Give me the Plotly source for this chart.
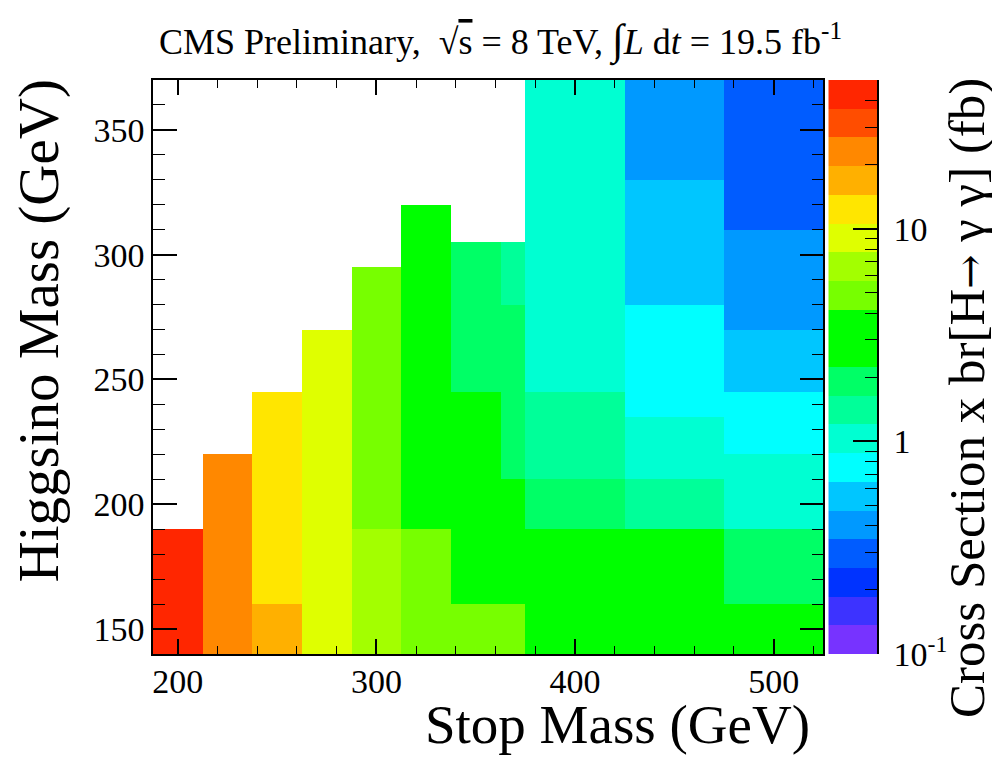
import math
import plotly.graph_objects as go

# ---------------- data ----------------
# stop-mass bin edges (GeV)
stop_edges = [187.5, 212.5, 237.5, 262.5, 287.5, 312.5, 337.5, 362.5, 375.0, 425.0, 475.0, 525.0]

# for every stop-mass bin: higgsino-mass edges (GeV) of its filled segments
higgsino_edges = [
    [140, 190],
    [140, 220],
    [140, 160, 245],
    [140, 270],
    [140, 190, 295],
    [140, 190, 320],
    [140, 160, 245, 305],
    [140, 160, 210, 280, 305],
    [140, 190, 210, 245, 370],
    [140, 190, 210, 235, 280, 330, 370],
    [140, 160, 190, 220, 245, 270, 310, 370],
]

# cross section x BR(H->gg) in fb for each segment above
xsec_fb = [
    [45.0],
    [23.0],
    [17.0, 12.0],
    [9.0],
    [6.5, 4.9],
    [4.8, 3.2],
    [4.6, 2.8, 1.9],
    [4.4, 2.6, 1.9, 1.4],
    [2.7, 1.9, 1.4, 1.0],
    [2.5, 1.4, 1.0, 0.75, 0.55, 0.4],
    [2.3, 1.9, 1.0, 0.75, 0.55, 0.4, 0.3],
]

x_tickvals = [200, 300, 400, 500]
y_tickvals = [150, 200, 250, 300, 350]
x_range = [187.5, 525]
y_range = [140, 370]

z_low, z_high = 0.1, 50.0
n_contours = 20
palette = [  # bottom -> top
    "#7733FF", "#3D33FF", "#0033FF", "#005CFF", "#0099FF",
    "#00C6FF", "#00FFFF", "#00FFD2", "#00FF99", "#00FF66",
    "#00FF00", "#00FF00", "#77FF00", "#A3FF00", "#DFFF00",
    "#FFE600", "#FFB000", "#FF8800", "#FF4D00", "#FF2600",
]
cbar_tickvals = [0.1, 1, 10]
cbar_ticktext = ["10<sup>-1</sup>", "1", "10"]
cbar_minor = [0.2, 0.3, 0.4, 0.5, 0.6, 0.7, 0.8, 0.9,
              2, 3, 4, 5, 6, 7, 8, 9, 20, 30, 40]

title_text = ("CMS Preliminary,  √<span style='text-decoration:overline'>s</span> = 8 TeV, "
              "<span style='font-size:43px'>∫</span><i>L</i> d<i>t</i> = 19.5 fb<sup>-1</sup>")
x_title = "Stop Mass (GeV)"
y_title = "Higgsino Mass (GeV)"
z_title = ("Cross Section x br[H<span style='font-family:DejaVu Serif;font-size:41px'>→</span>"
           " γ γ] (fb)")

# ---------------- build grid ----------------
y_edges = sorted({e for col in higgsino_edges for e in col})
z = []
for j in range(len(y_edges) - 1):
    mid = 0.5 * (y_edges[j] + y_edges[j + 1])
    row = []
    for edges, vals in zip(higgsino_edges, xsec_fb):
        v = None
        for k in range(len(vals)):
            if edges[k] <= mid < edges[k + 1]:
                v = math.log10(vals[k])
        row.append(v)
    z.append(row)

lz0, lz1 = math.log10(z_low), math.log10(z_high)
colorscale = []
for k, c in enumerate(palette):
    colorscale.append([k / n_contours, c])
    colorscale.append([(k + 1) / n_contours, c])

levels = [lz0 + (lz1 - lz0) * k / n_contours for k in range(n_contours + 1)]
bar_z = [[0.5 * (levels[k] + levels[k + 1])] for k in range(n_contours)]

FONT = "Liberation Serif"

fig = go.Figure()
fig.add_trace(go.Heatmap(
    x=stop_edges, y=y_edges, z=z,
    zmin=lz0, zmax=lz1, colorscale=colorscale,
    showscale=False, hoverinfo="skip", xaxis="x", yaxis="y",
))
fig.add_trace(go.Heatmap(
    x=[0, 1], y=levels, z=bar_z,
    zmin=lz0, zmax=lz1, colorscale=colorscale,
    showscale=False, hoverinfo="skip", xaxis="x2", yaxis="y2",
))

# page has an 8 px body margin: work in page pixels and convert
OFF = 8
W, H = 992, 749
L, T = 145, 72
B = H - (654 - OFF)
R = W - (877 - OFF)
pw, ph = W - L - R, H - T - B


def px(x_page):
    return (x_page - OFF - L) / pw


def py(y_page):
    return (H - B - (y_page - OFF)) / ph


tickfont = dict(family=FONT, size=34, color="black")
axis_common = dict(showline=True, linecolor="black", linewidth=1.5, mirror="ticks",
                   ticks="inside", tickcolor="black", tickwidth=1.5,
                   showgrid=False, zeroline=False, tickfont=tickfont)

fig.update_layout(
    width=W, height=H,
    margin=dict(l=L, r=R, t=T, b=B),
    paper_bgcolor="white", plot_bgcolor="white",
    showlegend=False,
    xaxis=dict(domain=[0, px(823.3)], range=x_range, anchor="y",
               tickvals=x_tickvals, ticklen=15, ticklabelstandoff=-4,
               minor=dict(ticks="inside", ticklen=8, dtick=20, tick0=200,
                          tickcolor="black", tickwidth=1.2, showgrid=False),
               **axis_common),
    yaxis=dict(domain=[0, 1], range=y_range, anchor="x",
               tickvals=y_tickvals, ticklen=24,
               minor=dict(ticks="inside", ticklen=12, dtick=10, tick0=150,
                          tickcolor="black", tickwidth=1.2, showgrid=False),
               **axis_common),
    xaxis2=dict(domain=[px(828.3), 1], range=[0, 1], anchor="y2", visible=False),
    yaxis2=dict(domain=[0, 1], range=[lz0, lz1], anchor="x2", side="right",
                showline=True, linecolor="black", linewidth=1.5,
                ticks="inside", ticklen=24, tickwidth=1.5, tickcolor="black",
                ticklabelstandoff=8,
                tickvals=[math.log10(v) for v in cbar_tickvals], ticktext=cbar_ticktext,
                minor=dict(tickmode="array", tickvals=[math.log10(v) for v in cbar_minor],
                           ticks="inside", ticklen=12, tickwidth=1.2, tickcolor="black",
                           showgrid=False),
                showgrid=False, zeroline=False, tickfont=tickfont),
    annotations=[
        dict(text=title_text, x=px(500), y=py(41), xref="paper", yref="paper",
             xanchor="center", yanchor="middle", showarrow=False,
             font=dict(family=FONT, size=36, color="black")),
        dict(text=x_title, x=px(812), y=py(724), xref="paper", yref="paper",
             xanchor="right", yanchor="middle", showarrow=False,
             font=dict(family=FONT, size=55, color="black")),
        dict(text=y_title, x=px(38), y=py(78), xref="paper", yref="paper",
             xanchor="center", yanchor="top", textangle=-90, showarrow=False,
             font=dict(family=FONT, size=57, color="black")),
        dict(text=z_title, x=px(967), y=py(76), xref="paper", yref="paper",
             xanchor="center", yanchor="top", textangle=-90, showarrow=False,
             font=dict(family=FONT, size=51, color="black")),
    ],
)

fig.write_html("out.html")
